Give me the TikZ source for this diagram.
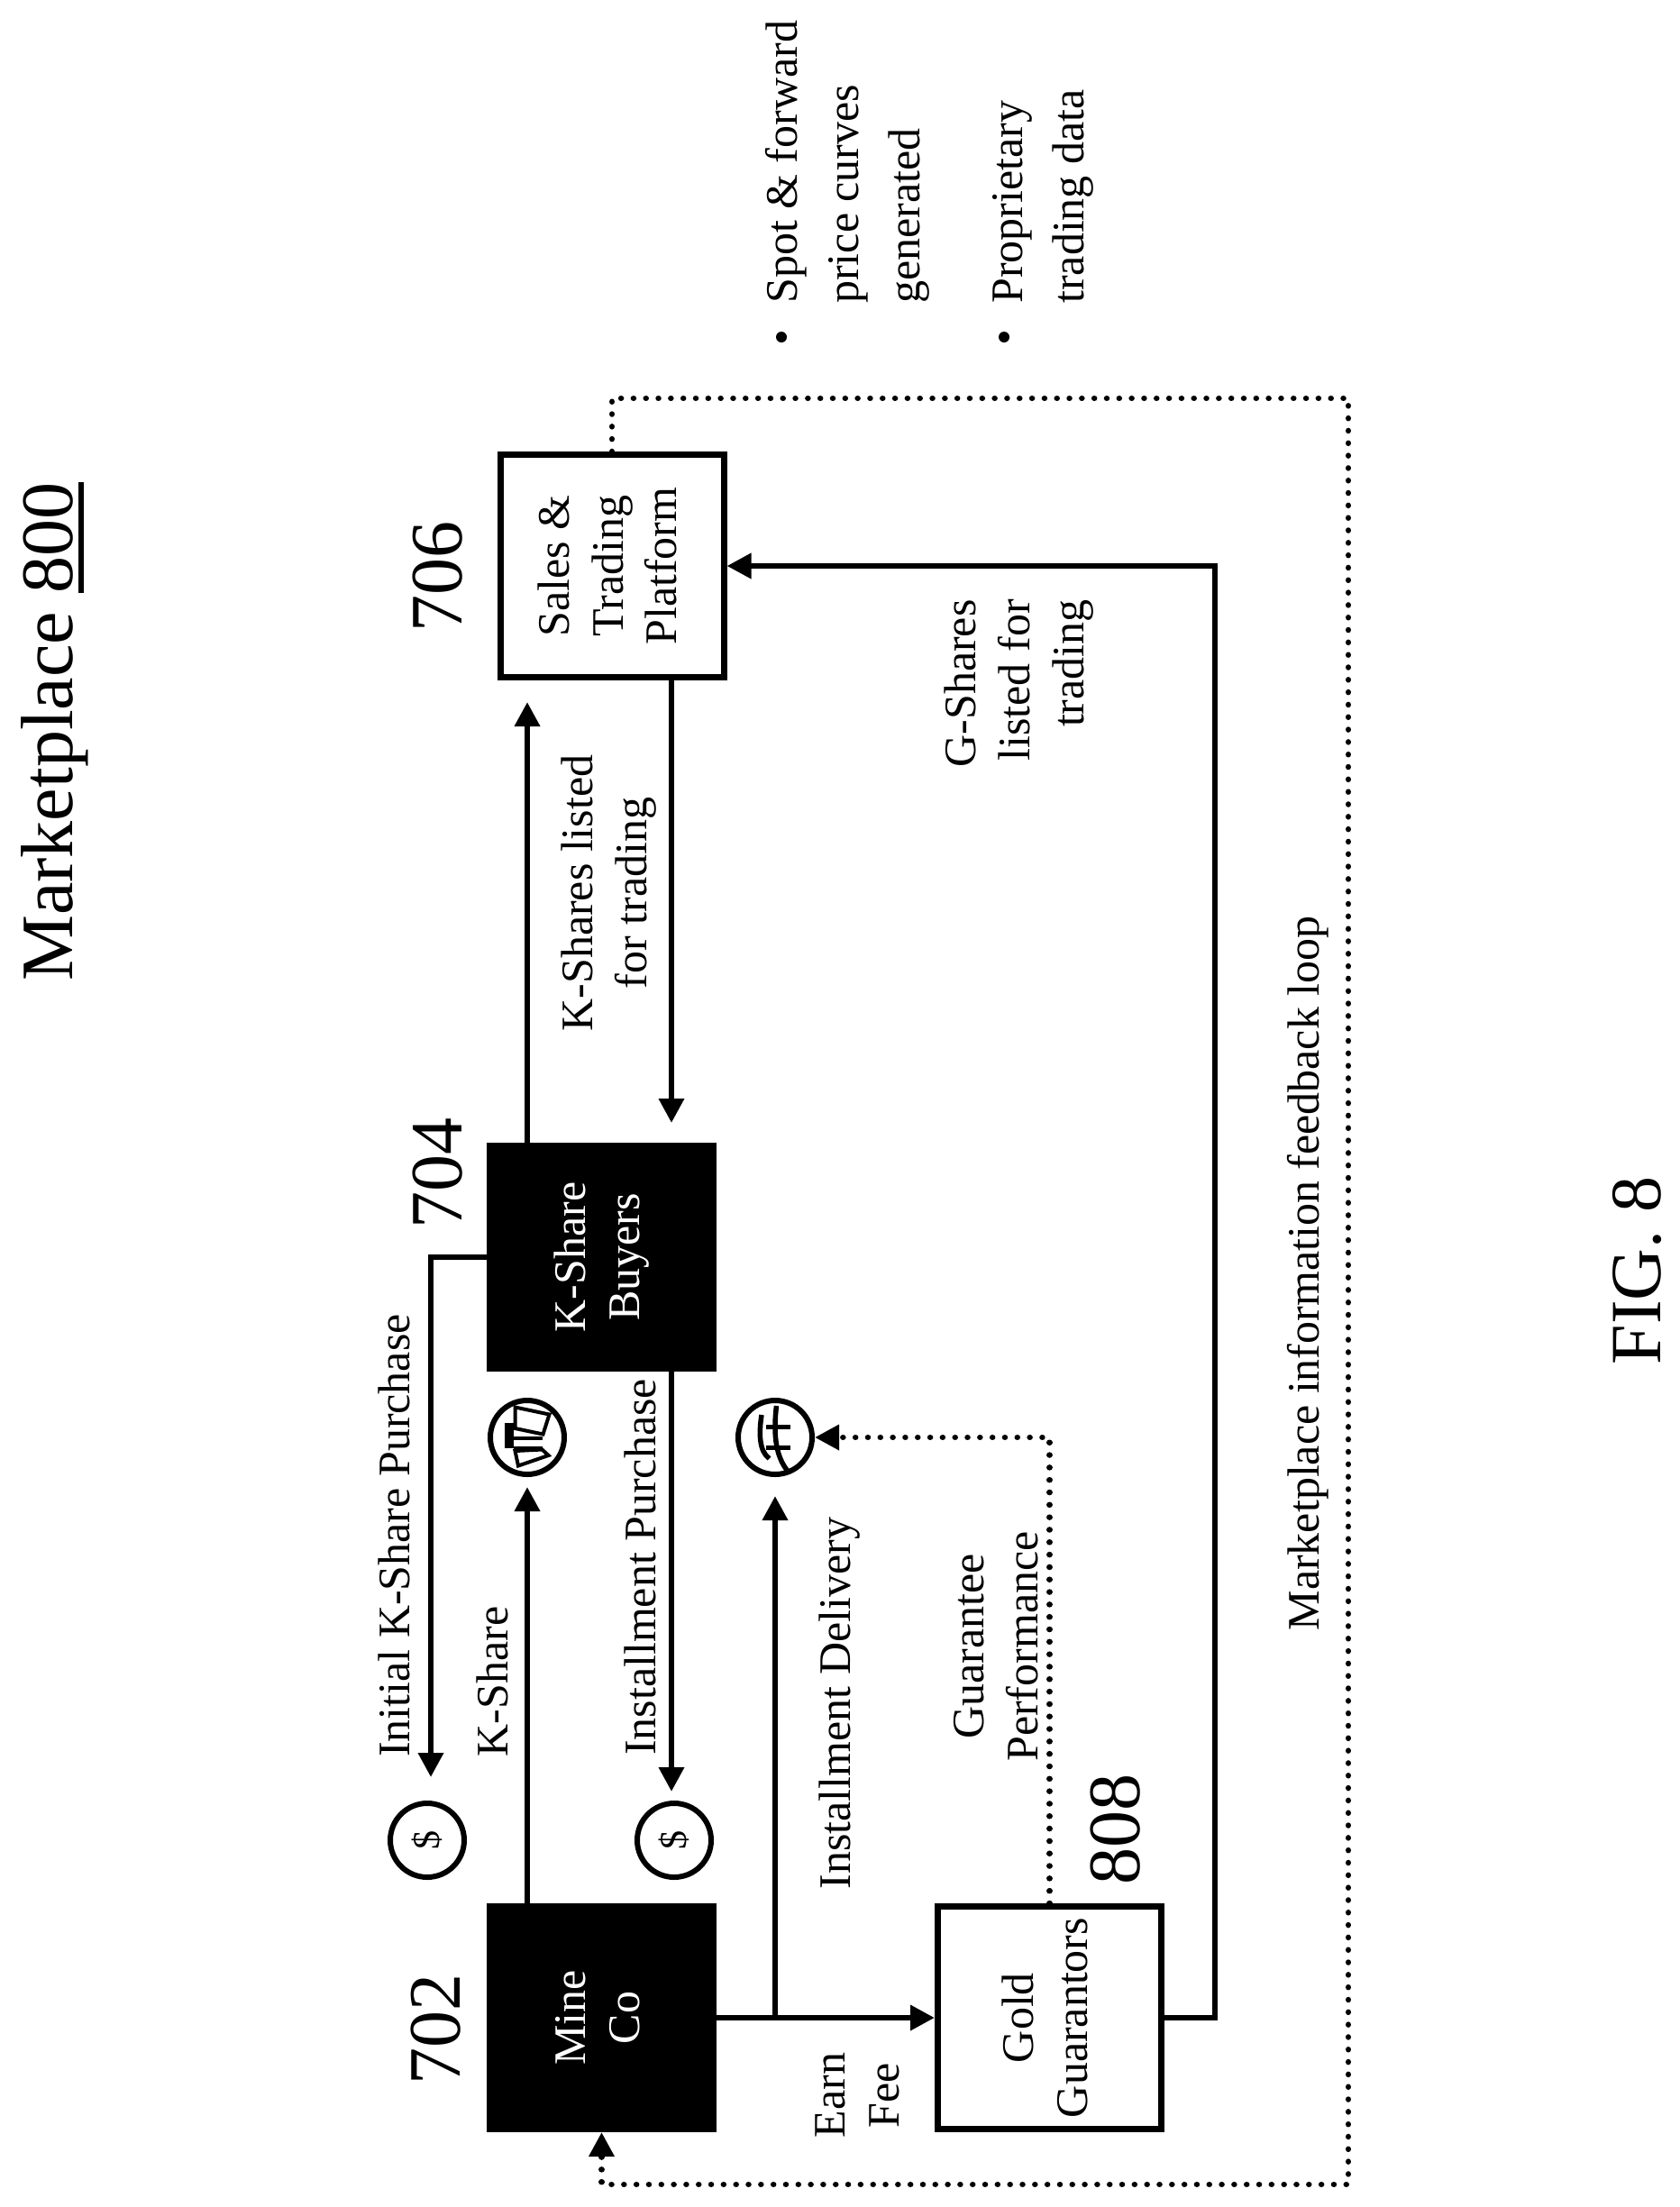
\documentclass[tikz,border=0pt]{standalone}
\usepackage{fontspec}
\setmainfont{Liberation Serif}
\usepackage{tikz}
\usetikzlibrary{arrows.meta,positioning}

\newcommand{\bodyfont}{\fontsize{28.45}{34.14}\selectfont}
\newcommand{\listfont}{\fontsize{28.45}{38.7}\selectfont}
\newcommand{\bigfont}{\fontsize{46.7}{56}\selectfont}
\newcommand{\figfont}{\fontsize{45.5}{54}\selectfont}
\newcommand{\boxtext}[1]{\rotatebox{90}{\begin{tabular}{@{}c@{}}#1\end{tabular}}}
\newcommand{\ulnum}[1]{\setbox0\hbox{#1}\rlap{\rule[-.26cm]{\wd0}{.12cm}}\box0}

\tikzset{
    >={Triangle[length=.54cm,width=.54cm]},
    plainbox/.style={draw,line width=.14cm,minimum width=4.96cm,minimum height=4.94cm,
                     inner sep=0pt,font=\bodyfont},
    darkbox/.style={plainbox,fill=black,text=white},
    flow/.style={draw,line width=.13cm,->},
    dotflow/.style={draw,line width=.13cm,line cap=round,dash pattern=on .01pt off .276cm,->},
    sign/.style={draw,circle,line width=.12cm,minimum size=1.64cm,inner sep=0pt,
                 font=\fontsize{24}{24}\selectfont},
    lbl/.style={rotate=90,anchor=base,inner sep=0pt,font=\bodyfont},
    lblblock/.style={rotate=90,inner sep=0pt,font=\bodyfont,align=center},
    refnum/.style={rotate=90,anchor=base,inner sep=0pt,font=\bigfont},
    bulletdot/.style={circle,fill=black,inner sep=0pt,minimum size=.24cm},
}

\begin{document}
\begin{tikzpicture}
        \useasboundingbox (0,0) rectangle (37.26,-48.98);

        \node[darkbox] (mine) at (13.35,-44.78) {\boxtext{Mine\\Co}};
        \node[darkbox,above=11.8cm of mine] (buyers) {\boxtext{K-Share\\Buyers}};
        \node[plainbox,above=10.26cm of buyers,xshift=.23cm] (platform) {\boxtext{Sales \&\\Trading\\Platform}};
        \node[plainbox,right=4.84cm of mine] (guarantors) {\boxtext{Gold\\Guarantors}};

        \node[sign] (dollarone) at (9.48,-40.84) {\rotatebox{90}{\$}};
        \node[sign] (dollartwo) at (14.96,-40.84) {\rotatebox{90}{\$}};
        \node[sign] (barsign) at (11.7,-31.9) {};
        \node[sign] (goldsign) at (17.2,-31.9) {};

        \coordinate (purchaseline) at (14.9,-25);
        \coordinate (initialline) at (9.56,-38);
        \coordinate (branch) at (mine.east -| goldsign);
        \coordinate (turn) at (26.96,-30);
        \coordinate (loopne) at (29.92,-8.84);
        \coordinate (loopse) at (29.92,-48.48);

        \draw[flow,shorten >=.22cm] (mine.north -| barsign) -- (barsign.south);
        \draw[flow,shorten >=.52cm] (buyers.west) -| (initialline |- dollarone.north);
        \draw[flow,shorten >=.2cm] (buyers.south -| purchaseline) -- (dollartwo.north -| purchaseline);
        \draw[flow,shorten >=.48cm] (buyers.north -| barsign) -- (platform.south -| barsign);
        \draw[flow,shorten >=.44cm] (platform.south -| purchaseline) -- (buyers.north -| purchaseline);
        \draw[flow] (mine.east) -- (guarantors.west);
        \draw[flow,shorten >=.42cm] (branch) -- (goldsign.south);
        \draw[flow] (guarantors.east) -- (guarantors.east -| turn) -- (platform.east -| turn) -- (platform.east);
        \draw[dotflow] (guarantors.north) |- (goldsign.east);
        \draw[dotflow] (platform.north) -- (platform.north |- loopne) -- (loopne) -- (loopse) -- (mine.south |- loopse) -- (mine.south);

        \begin{scope}[shift={(barsign)},line width=.08cm]
            \draw (-.27,.67) -- (.49,.51) -- (.35,.07) -- (-.27,.2) -- cycle;
            \draw (-.27,-.3) -- (.33,-.27) -- (.47,-.4) -- (-.2,-.63) -- cycle;
            \draw[line width=.2cm] (-.4,.33) -- (-.4,-.23);
            \draw (-.3,-.02) -- (.33,-.02);
            \draw (-.3,-.24) -- (.33,-.24);
        \end{scope}
        \begin{scope}[shift={(goldsign)},line width=.11cm]
            \draw (-.3,.5) .. controls (-.36,.1) and (-.36,-.3) .. (-.13,-.47);
            \draw (.03,.7) .. controls (-.03,.2) and (-.03,-.4) .. (.3,-.77);
            \draw (-.2,.23) -- (.33,.23);
            \draw (-.2,-.23) -- (.33,-.23);
        \end{scope}

        \node[refnum] (title) at (1.6,-16.24) {Marketplace \ulnum{800}};
        \node[rotate=90,anchor=base,inner sep=0pt,font=\figfont] (figlabel) at (36.84,-28.2) {FIG. 8};
        \node[refnum] (num702) at (10.2,-45.04) {702};
        \node[refnum] (num704) at (10.24,-26.04) {704};
        \node[refnum] (num706) at (10.24,-12.8) {706};
        \node[refnum] (num808) at (25.28,-40.6) {808};

        \node[lbl] (initiallabel) at (9.08,-34.08) {Initial K-Share Purchase};
        \node[lbl] (ksharelabel) at (11.26,-37.32) {K-Share};
        \node[lbl] (purchaselabel) at (14.54,-34.78) {Installment Purchase};
        \node[lbl] (deliverylabel) at (18.86,-37.8) {Installment Delivery};
        \node[lbl] (feedbacklabel) at (29.26,-28.26) {Marketplace information feedback loop};

        \node[lblblock] (listedlabel) at (13.52,-19.82) {K-Shares listed\\for trading};
        \node[lblblock,align=right,anchor=east] (gshareslabel) at (22.62,-13.3) {G-Shares\\listed for\\trading};
        \node[lblblock] (performlabel) at (22.11,-36.54) {Guarantee\\Performance};
        \node[lblblock] (feelabel) at (19.02,-46.5) {Earn\\Fee};

        \node[lblblock,font=\listfont,align=left,anchor=west] (curveslabel) at (18.8,-6.74) {Spot \& forward\\price curves\\generated};
        \node[lblblock,font=\listfont,align=left,anchor=west] (datalabel) at (23.14,-6.74) {Proprietary\\trading data};
        \node[bulletdot] (curvesdot) at (17.34,-7.48) {};
        \node[bulletdot] (datadot) at (22.28,-7.48) {};
    \end{tikzpicture}
\end{document}
